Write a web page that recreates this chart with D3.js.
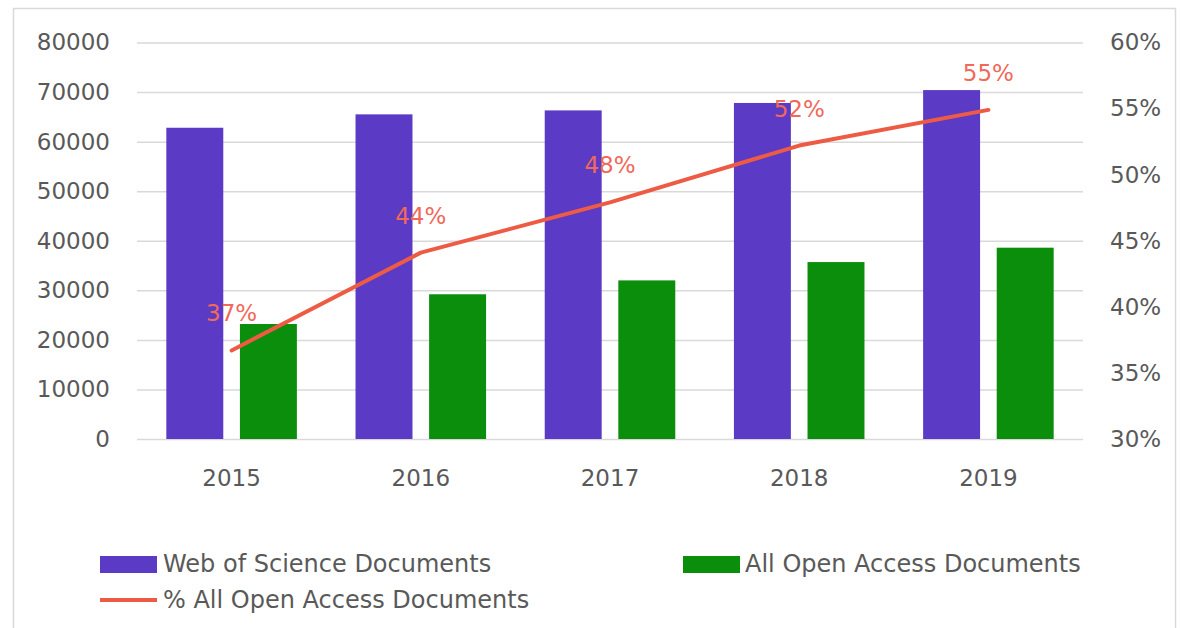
<!DOCTYPE html>
<html>
<head>
<meta charset="utf-8">
<script src="https://cdn.jsdelivr.net/npm/d3@7"></script>
<style>
  body { margin: 0; background: #fff; }
  #chart text { font-family: "DejaVu Sans", sans-serif; }
</style>
</head>
<body>
<div id="chart"></div>
<script>
// values
const years = ['2015', '2016', '2017', '2018', '2019'];
const wosDocs = [62800, 65500, 66300, 67800, 70400];
const oaDocs = [23200, 29200, 32000, 35700, 38600];
const oaShare = [36.7, 44.1, 47.9, 52.2, 54.9];
const shareLabels = ['37%', '44%', '48%', '52%', '55%'];
const leftTicks = [0, 10000, 20000, 30000, 40000, 50000, 60000, 70000, 80000];
const rightTicks = [30, 35, 40, 45, 50, 55, 60];
const seriesNames = ['Web of Science Documents', 'All Open Access Documents', '% All Open Access Documents'];

const width = 1182;
const height = 628;
const plot = { left: 137, right: 1083, top: 42.5, bottom: 439 };
const purple = '#5b3ac6';
const green = '#0b8e0b';
const red = '#ee5b45';
const grey = '#595959';

const svg = d3.select('#chart')
  .append('svg')
  .attr('width', width)
  .attr('height', height);

// chart frame
svg.append('rect')
  .attr('x', 13.5)
  .attr('y', 8.5)
  .attr('width', 1162)
  .attr('height', 622)
  .attr('fill', 'none')
  .attr('stroke', '#d9d9d9')
  .attr('stroke-width', 1.5);

// scales
const x = d3.scaleBand()
  .domain(years)
  .range([plot.left, plot.right])
  .paddingInner(0.31)
  .paddingOuter(0.155);

const xSub = d3.scaleBand()
  .domain(['wos', 'oa'])
  .range([0, x.bandwidth()])
  .paddingInner(0.226);

const y = d3.scaleLinear()
  .domain([0, 80000])
  .range([plot.bottom, plot.top]);

const yRight = d3.scaleLinear()
  .domain([30, 60])
  .range([plot.bottom, plot.top]);

// gridlines
const grid = svg.append('g')
  .attr('transform', `translate(${plot.left}, 0)`)
  .call(d3.axisLeft(y).tickValues(leftTicks).tickSize(-(plot.right - plot.left)).tickFormat(''));
grid.select('.domain').remove();
grid.selectAll('line')
  .attr('stroke', '#d9d9d9')
  .attr('stroke-width', 1.5);

// bars
svg.selectAll('.bar-wos')
  .data(wosDocs)
  .enter().append('rect')
  .attr('class', 'bar-wos')
  .attr('x', (d, i) => x(years[i]) + xSub('wos'))
  .attr('y', d => y(d))
  .attr('width', xSub.bandwidth())
  .attr('height', d => y(0) - y(d))
  .attr('fill', purple);

svg.selectAll('.bar-oa')
  .data(oaDocs)
  .enter().append('rect')
  .attr('class', 'bar-oa')
  .attr('x', (d, i) => x(years[i]) + xSub('oa'))
  .attr('y', d => y(d))
  .attr('width', xSub.bandwidth())
  .attr('height', d => y(0) - y(d))
  .attr('fill', green);

// share line
const line = d3.line()
  .x((d, i) => x(years[i]) + x.bandwidth() / 2)
  .y(d => yRight(d));

svg.append('path')
  .datum(oaShare)
  .attr('d', line)
  .attr('fill', 'none')
  .attr('stroke', red)
  .attr('stroke-width', 4)
  .attr('stroke-linecap', 'round')
  .attr('stroke-linejoin', 'round');

svg.selectAll('.share-label')
  .data(oaShare)
  .enter().append('text')
  .attr('class', 'share-label')
  .attr('x', (d, i) => x(years[i]) + x.bandwidth() / 2)
  .attr('y', d => yRight(d) - 29)
  .attr('text-anchor', 'middle')
  .style('font-size', '23px')
  .style('fill', '#f0695a')
  .text((d, i) => shareLabels[i]);

// axes
const styleAxis = g => {
  g.select('.domain').remove();
  g.attr('color', grey);
  g.selectAll('text').style('font-size', '23px');
};

svg.append('g')
  .attr('transform', `translate(${plot.left}, 0)`)
  .call(d3.axisLeft(y).tickValues(leftTicks).tickSize(0).tickPadding(27).tickFormat(d3.format('d')))
  .call(styleAxis);

svg.append('g')
  .attr('transform', `translate(${plot.right}, 0)`)
  .call(d3.axisRight(yRight).tickValues(rightTicks).tickSize(0).tickPadding(27).tickFormat(d => `${d}%`))
  .call(styleAxis);

svg.append('g')
  .attr('transform', `translate(0, ${plot.bottom})`)
  .call(d3.axisBottom(x).tickSize(0).tickPadding(31))
  .call(styleAxis);

// legend
const legend = svg.append('g').style('font-size', '24px').style('fill', grey);

legend.append('rect')
  .attr('x', 100).attr('y', 556).attr('width', 57).attr('height', 17)
  .attr('fill', purple);
legend.append('text')
  .attr('x', 163).attr('y', 564).attr('dy', '0.35em')
  .text(seriesNames[0]);

legend.append('rect')
  .attr('x', 683).attr('y', 556).attr('width', 57).attr('height', 17)
  .attr('fill', green);
legend.append('text')
  .attr('x', 745).attr('y', 564).attr('dy', '0.35em')
  .text(seriesNames[1]);

legend.append('line')
  .attr('x1', 100).attr('x2', 157).attr('y1', 600).attr('y2', 600)
  .attr('stroke', red).attr('stroke-width', 4);
legend.append('text')
  .attr('x', 163).attr('y', 600).attr('dy', '0.35em')
  .text(seriesNames[2]);
</script>
</body>
</html>
